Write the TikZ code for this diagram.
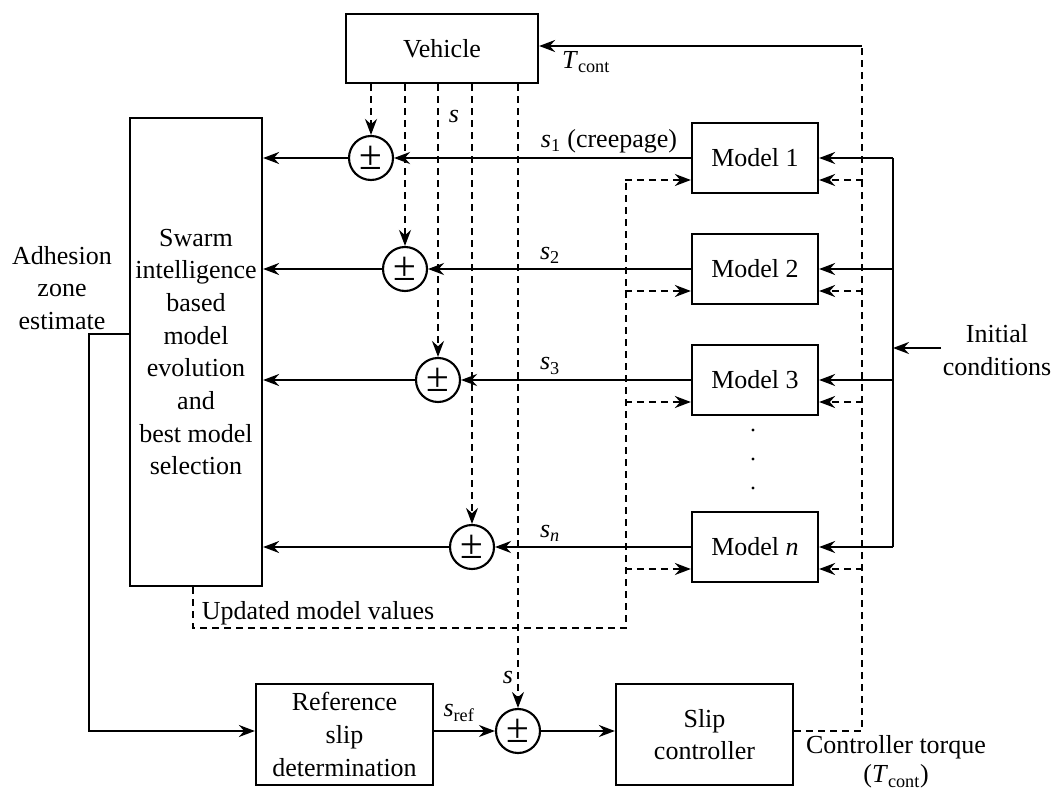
\documentclass[tikz,border=0pt]{standalone}
\usepackage{fontspec}
\setmainfont{Liberation Serif}
\usetikzlibrary{arrows.meta,calc}
\newcommand\sv[1]{\textit{s}\textsubscript{#1}}
\newcommand\Tc{\textit{T}\textsubscript{cont}}
\begin{document}
\begin{tikzpicture}[x=0.75pt,y=-0.75pt,
  every node/.style={font=\fontsize{19.5}{24.5}\selectfont},
  blk/.style={draw,line width=1.7pt,inner sep=0pt,align=center},
  sumc/.style={draw,circle,line width=1.6pt,minimum size=33pt,inner sep=0pt,font=\fontsize{31}{31}\selectfont},
  ln/.style={line width=1.6pt},
  dl/.style={line width=1.6pt,dash pattern=on 5.2pt off 3.8pt},
  arr/.style={-{Stealth[length=12pt,width=9pt,inset=4pt]}},
  lbl/.style={inner sep=0pt}]
\useasboundingbox (0,0) rectangle (1056,791);
% blocks
\node[blk,minimum width=144pt,minimum height=51.75pt] (veh) at (442,48.5) {Vehicle};
\node[blk,minimum width=99pt,minimum height=351pt] (sw) at (196,352) {Swarm\\intelligence\\based\\model\\evolution\\and\\best model\\selection};
\node[blk,minimum width=94.5pt,minimum height=52.5pt] (m1) at (755,158) {Model 1};
\node[blk,minimum width=94.5pt,minimum height=52.5pt] (m2) at (755,269) {Model 2};
\node[blk,minimum width=94.5pt,minimum height=52.5pt] (m3) at (755,380) {Model 3};
\node[blk,minimum width=94.5pt,minimum height=52.5pt] (mn) at (755,547) {Model \textit{n}};
\node[blk,minimum width=132.75pt,minimum height=75.75pt] (ref) at (344.5,734.5) {Reference\\slip\\determination};
\node[blk,minimum width=132.75pt,minimum height=75.75pt] (slc) at (704.5,734.5) {Slip\\controller};
% sum circles
\node[sumc] (c1) at (371,158) {±};
\node[sumc] (c2) at (405,269) {±};
\node[sumc] (c3) at (438,380) {±};
\node[sumc] (cn) at (472,547) {±};
\node[sumc] (cb) at (518,731) {±};
% coordinates
\coordinate (rt) at (862,46);
\coordinate (rb) at (862,731);
\coordinate (ic) at (893,348);
\coordinate (ica) at (941,348);
\coordinate (ad1) at (89,334);
\coordinate (ad2) at (89,731);
\coordinate (up1) at (193,628);
\coordinate (up2) at (626,628);
\coordinate (lv) at (626,180);
% solid model outputs
\foreach \m/\c in {m1/c1,m2/c2,m3/c3,mn/cn}{
  \draw[ln,arr] (\m.west) -- (\c.east);
  \draw[ln,arr] (\c.west) -- (sw.east |- \c.west);
  \draw[ln,arr] (\m.east -| ic) -- (\m.east);
}
\draw[ln] (m1.east -| ic) -- (mn.east -| ic);
\draw[ln,arr] (ica) -- (ic);
% vehicle dashed outputs
\draw[dl,arr] (veh.south -| c1) -- (c1.north);
\draw[dl,arr] (veh.south -| c2) -- (c2.north);
\draw[dl,arr] (veh.south -| c3) -- (c3.north);
\draw[dl,arr] (veh.south -| cn) -- (cn.north);
\draw[dl,arr] (veh.south -| cb) -- (cb.north);
% updated model values dashed
\draw[dl] (sw.south -| up1) -- (up1) -- (up2) -- (lv);
\foreach \m in {m1,m2,m3,mn}{
  \draw[dl,arr] ($(\m.west)+(-66,22)$) -- ($(\m.west)+(0,22)$);
  \draw[dl,arr] ($(\m.east)+(44,22)$) -- ($(\m.east)+(0,22)$);
}
% controller torque loop
\draw[dl] (slc.east |- rb) -- (rb) -- (rt);
\draw[ln,arr] (rt) -- (veh.east |- rt);
% adhesion zone
\draw[ln,arr] (sw.west |- ad1) -- (ad1) -- (ad2) -- (ref.west |- ad2);
\draw[ln,arr] (ref.east |- cb) -- (cb.west);
\draw[ln,arr] (cb.east) -- (slc.west |- cb);
% dots
\fill (753,430) circle (1.3pt);
\fill (753,459) circle (1.3pt);
\fill (753,488) circle (1.3pt);
% labels
\node[lbl] (lT) at (586,62) {\Tc};
\node[lbl] (ls) at (454,117) {\textit{s}};
\node[lbl] (ls1) at (609,141) {\sv{1} (creepage)};
\node[lbl] (ls2) at (550,255) {\sv{2}};
\node[lbl] (ls3) at (550,366) {\sv{3}};
\node[lbl] (lsn) at (550,533) {\sv{\textit{n}}};
\node[lbl] (lsb) at (508,677) {\textit{s}};
\node[lbl] (lsr) at (459,713) {\sv{ref}};
\node[lbl,align=center] (lad) at (62,288) {Adhesion\\zone\\estimate};
\node[lbl,align=center] (lic) at (997,350) {Initial\\conditions};
\node[lbl] (lup) at (318,613) {Updated model values};
\node[lbl,align=center,font=\fontsize{19.5}{22}\selectfont] (lct) at (896,762) {Controller torque\\(\Tc)};
\end{tikzpicture}
\end{document}
